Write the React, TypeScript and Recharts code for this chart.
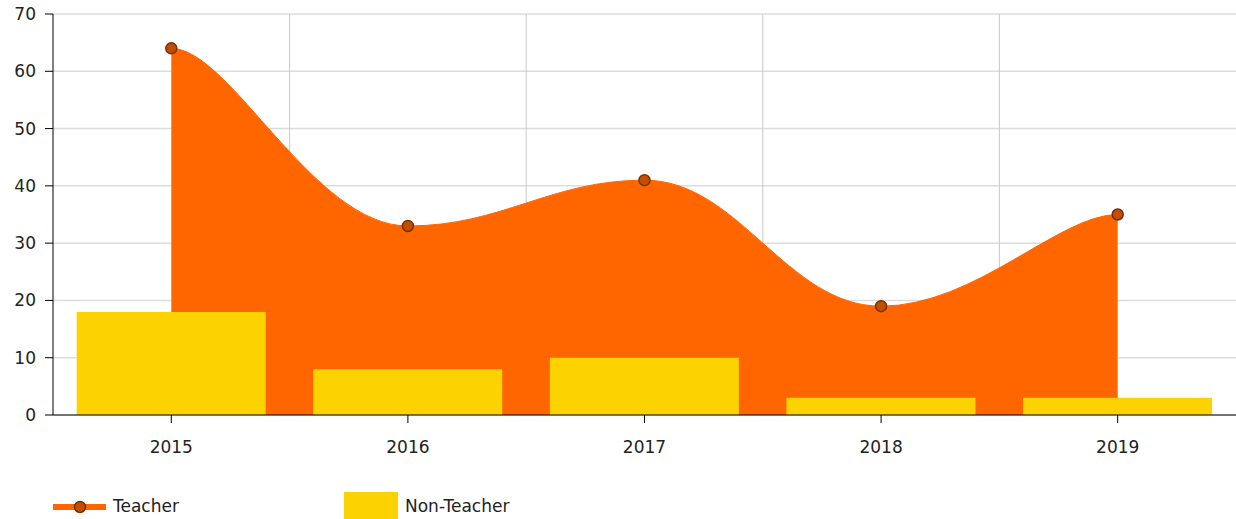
import React from 'react';
import {
  ComposedChart,
  Area,
  Bar,
  XAxis,
  YAxis,
  CartesianGrid,
  Legend,
} from 'recharts';

const years = ['2015', '2016', '2017', '2018', '2019'];
const teacher = [64, 33, 41, 19, 35];
const nonTeacher = [18, 8, 10, 3, 3];
const yTicks = [0, 10, 20, 30, 40, 50, 60, 70];

const ORANGE = '#FF6600';
const YELLOW = '#FCD200';
const DOT_FILL = '#C24E00';
const DOT_STROKE = '#7A2E00';
const FONT = '"DejaVu Sans", Verdana, sans-serif';

const data = years.map((year, i) => ({
  year,
  Teacher: teacher[i],
  'Non-Teacher': nonTeacher[i],
}));

// spline that stays flat at local peaks/troughs (no overshoot), short flat handles at the ends
const smoothCurve = (context: any) => {
  let xs: number[] = [];
  let ys: number[] = [];
  let line = NaN;

  const draw = () => {
    const n = xs.length;
    if (!n) return;
    if (line) context.lineTo(xs[0], ys[0]);
    else context.moveTo(xs[0], ys[0]);
    const lx: number[] = [];
    const ly: number[] = [];
    const rx: number[] = [];
    const ry: number[] = [];
    for (let i = 0; i < n; i++) {
      const x = xs[i];
      const y = ys[i];
      if (i === 0 || i === n - 1) {
        const px = i === 0 ? x : xs[i - 1];
        const nx = i === n - 1 ? x : xs[i + 1];
        lx[i] = x - (x - px) * 0.25;
        ly[i] = y;
        rx[i] = x + (nx - x) * 0.25;
        ry[i] = y;
        continue;
      }
      const px = xs[i - 1], py = ys[i - 1], nx = xs[i + 1], ny = ys[i + 1];
      const lcx = (1.5 * x + px) / 2.5;
      const rcx = (1.5 * x + nx) / 2.5;
      let lcy = (1.5 * y + py) / 2.5;
      let rcy = (1.5 * y + ny) / 2.5;
      if (rcx !== lcx) {
        const c = ((rcy - lcy) * (rcx - x)) / (rcx - lcx) + y - rcy;
        lcy += c;
        rcy += c;
        if (lcy > py && lcy > y) {
          lcy = Math.max(py, y);
          rcy = 2 * y - lcy;
        } else if (lcy < py && lcy < y) {
          lcy = Math.min(py, y);
          rcy = 2 * y - lcy;
        }
        if (rcy > ny && rcy > y) {
          rcy = Math.max(ny, y);
          lcy = 2 * y - rcy;
        } else if (rcy < ny && rcy < y) {
          rcy = Math.min(ny, y);
          lcy = 2 * y - rcy;
        }
      }
      lx[i] = lcx;
      ly[i] = lcy;
      rx[i] = rcx;
      ry[i] = rcy;
    }
    for (let i = 1; i < n; i++) {
      context.bezierCurveTo(rx[i - 1], ry[i - 1], lx[i], ly[i], xs[i], ys[i]);
    }
  };

  return {
    areaStart() {
      line = 0;
    },
    areaEnd() {
      line = NaN;
    },
    lineStart() {
      xs = [];
      ys = [];
    },
    lineEnd() {
      draw();
      if (line || (line !== 0 && xs.length === 1)) context.closePath();
      line = 1 - line;
    },
    point(x: number, y: number) {
      xs.push(+x);
      ys.push(+y);
    },
  };
};

const LegendContent = () => (
  <div style={{ position: 'relative', height: 40, fontFamily: FONT, fontSize: 17, color: '#222' }}>
    <svg width={56} height={14} style={{ position: 'absolute', left: 53, top: 21 }}>
      <line x1={0} y1={7} x2={53} y2={7} stroke={ORANGE} strokeWidth={6} />
      <circle cx={27} cy={7} r={5.5} fill={DOT_FILL} stroke={DOT_STROKE} strokeWidth={1.5} />
    </svg>
    <span style={{ position: 'absolute', left: 113, top: 17 }}>Teacher</span>
    <div style={{ position: 'absolute', left: 344, top: 13, width: 54, height: 30, background: YELLOW }} />
    <span style={{ position: 'absolute', left: 405, top: 17 }}>Non-Teacher</span>
  </div>
);

const App: React.FC = () => {
  return (
    <div style={{ position: 'absolute', left: 0, top: 0, width: 1236, height: 519, background: '#fff', overflow: 'hidden' }}>
      <ComposedChart
        width={1236}
        height={519}
        data={data}
        margin={{ top: 14, right: 0, bottom: 0, left: 0 }}
        barCategoryGap="10%"
      >
        <CartesianGrid stroke="#dcdcdc" strokeWidth={1.5} horizontal={true} vertical={false} />
        <CartesianGrid
          stroke="#c8c8c8"
          strokeWidth={1}
          horizontal={false}
          verticalCoordinatesGenerator={({ offset }: any) =>
            years.slice(1).map((_, i) => offset.left + (offset.width * (i + 1)) / years.length)
          }
        />
        <XAxis
          dataKey="year"
          height={64}
          tickSize={8}
          tickMargin={18}
          stroke="#000"
          tick={{ fill: '#222', fontSize: 17, fontFamily: FONT }}
        />
        <YAxis
          width={53}
          domain={[0, 70]}
          ticks={yTicks}
          tickSize={8}
          tickMargin={9}
          stroke="#000"
          tick={{ fill: '#222', fontSize: 17, fontFamily: FONT }}
        />
        <Area
          type={smoothCurve as any}
          dataKey="Teacher"
          fill={ORANGE}
          fillOpacity={1}
          stroke={ORANGE}
          strokeWidth={1}
          dot={{ r: 5.5, fill: DOT_FILL, stroke: DOT_STROKE, strokeWidth: 1.5, fillOpacity: 1 }}
          activeDot={false}
          isAnimationActive={false}
        />
        <Bar dataKey="Non-Teacher" fill={YELLOW} isAnimationActive={false} />
        <Legend verticalAlign="bottom" align="left" height={40} content={<LegendContent />} />
      </ComposedChart>
    </div>
  );
};

export default App;
